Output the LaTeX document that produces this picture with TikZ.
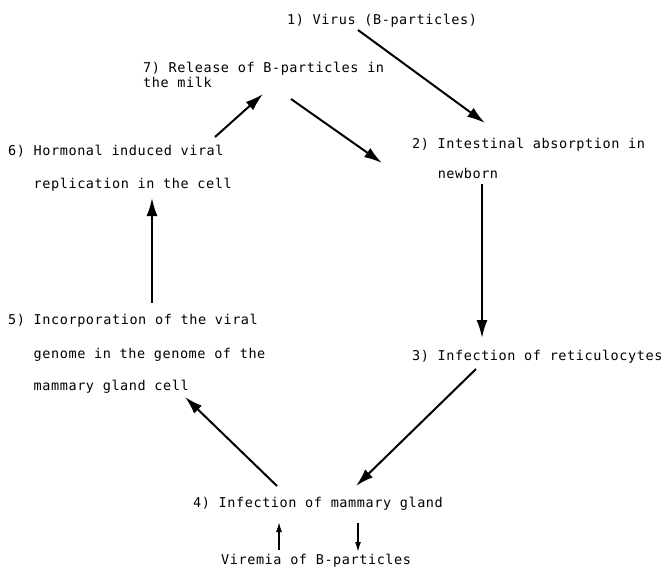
\documentclass[tikz,border=0pt]{standalone}
\usepackage{fontspec}
\usepackage{tikz}
\usetikzlibrary{arrows.meta}
\newfontfamily\tw[LetterSpace=4.3]{DejaVu Sans Mono}

\begin{document}
\begin{tikzpicture}[
		x=1pt,y=-1pt,
		lb/.style={anchor=base west,inner sep=0pt,align=left,font=\tw\fontsize{13.5}{15}\selectfont},
		ar/.style={->,line width=2pt},
		sar/.style={-{Latex[length=10pt,width=6pt]},line width=1.4pt},
		>={Latex[length=18pt,width=11pt]}]
	\useasboundingbox (0,0) rectangle (666,570);
	%% stages of the cycle (anchored at the last line)
	\node[lb] (vir) at (287,24) {1) Virus (B-particles)};
	\node[lb] (abs) at (412,178) {2) Intestinal absorption in\\[15pt]\phantom{2) }newborn};
	\node[lb] (ret) at (412,360) {3) Infection of reticulocytes};
	\node[lb] (mam) at (193,507) {4) Infection of mammary gland};
	\node[lb] (inc) at (8,390) {5) Incorporation of the viral\\[19pt]\phantom{5) }genome in the genome of the\\[17pt]\phantom{5) }mammary gland cell};
	\node[lb] (hor) at (8,188) {6) Hormonal induced viral\\[18pt]\phantom{6) }replication in the cell};
	\node[lb] (rel) at (143,87) {7) Release of B-particles in\\the milk};
	\node[lb] (vrm) at (221,564) {Viremia of B-particles};
	%% arrows between stages
	\draw[ar] ([xshift=71pt,yshift=-6pt]vir.base west) -- ([xshift=73pt,yshift=55pt]abs.base west);
	\draw[ar] ([xshift=70pt,yshift=-6pt]abs.base west) -- ([xshift=70pt,yshift=22pt]ret.base west);
	\draw[ar] ([xshift=64pt,yshift=-9pt]ret.base west) -- ([xshift=163pt,yshift=21pt]mam.base west);
	\draw[ar] ([xshift=84pt,yshift=21pt]mam.base west) -- ([xshift=177pt,yshift=-7pt]inc.base west);
	\draw[ar] ([xshift=144pt,yshift=87pt]inc.base west) -- ([xshift=144pt,yshift=-10pt]hor.base west);
	\draw[ar] ([xshift=207pt,yshift=51pt]hor.base west) -- ([xshift=120pt,yshift=-7pt]rel.base west);
	\draw[ar] ([xshift=148pt,yshift=-12pt]rel.base west) -- ([xshift=-30pt,yshift=15pt]abs.base west);
	%% viremia
	\draw[sar] ([xshift=58pt,yshift=14pt]vrm.base west) -- ([xshift=86pt,yshift=-15pt]mam.base west);
	\draw[sar] ([xshift=165pt,yshift=-16pt]mam.base west) -- ([xshift=137pt,yshift=12pt]vrm.base west);
\end{tikzpicture}
\end{document}
